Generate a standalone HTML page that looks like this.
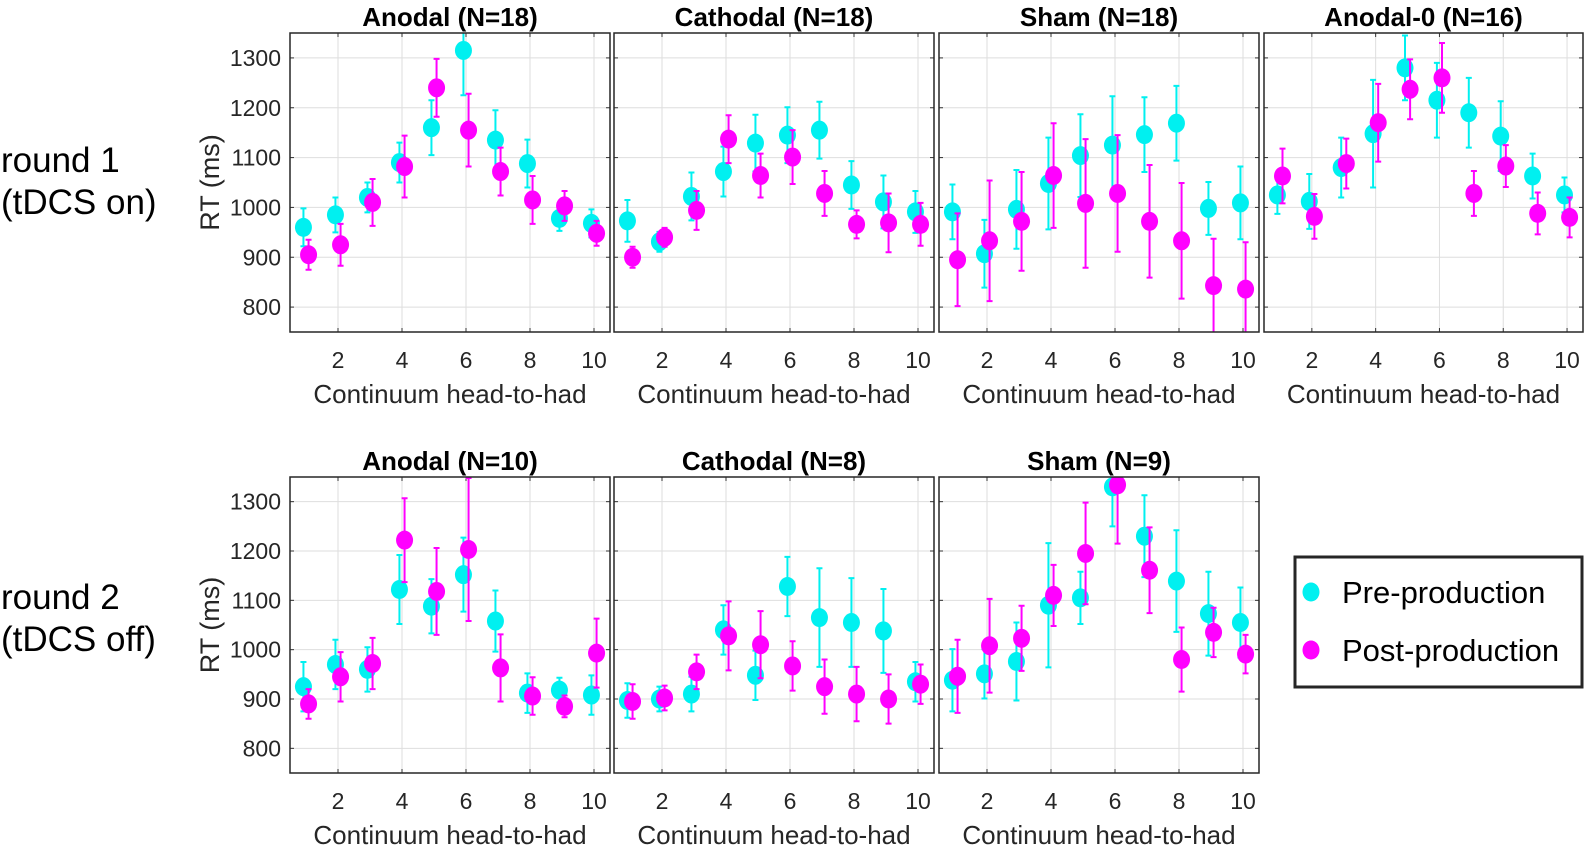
<!DOCTYPE html>
<html><head><meta charset="utf-8"><style>
body{margin:0;background:#fff;}
svg{display:block;font-family:"Liberation Sans",Arial,sans-serif;}
</style></head><body>
<svg id="fig" width="1592" height="853" viewBox="0 0 1592 853">
<g id="root"></g>
</svg>
<script>
const categories=[1,2,3,4,5,6,7,8,9,10];
const yTicks=[800,900,1000,1100,1200,1300];
const xTicks=[2,4,6,8,10];
const titles=["Anodal (N=18)","Cathodal (N=18)","Sham (N=18)","Anodal-0 (N=16)","Anodal (N=10)","Cathodal (N=8)","Sham (N=9)"];
const preMean=[
[960,985,1020,1090,1160,1315,1135,1088,978,968],
[973,931,1022,1072,1129,1145,1155,1045,1011,991],
[991,907,996,1048,1104,1125,1146,1169,998,1009],
[1025,1012,1080,1148,1280,1215,1190,1143,1063,1025],
[925,970,960,1122,1088,1152,1058,912,918,908],
[897,900,910,1040,948,1128,1065,1055,1038,935],
[938,951,976,1090,1105,1330,1230,1139,1073,1055]];
const preErr=[
[38,35,30,40,55,90,60,48,25,28],
[42,20,48,50,57,56,57,48,53,42],
[55,68,79,92,83,98,75,75,53,73],
[38,55,60,108,65,75,70,70,45,35],
[50,50,45,70,55,75,62,40,25,40],
[35,25,35,50,50,60,100,90,85,40],
[63,50,79,126,53,80,83,103,85,71]];
const postMean=[
[905,925,1010,1082,1240,1155,1072,1015,1003,948],
[900,940,994,1137,1064,1101,1028,966,969,966],
[895,933,972,1064,1008,1028,972,933,843,836],
[1063,982,1088,1170,1237,1260,1028,1083,988,980],
[890,945,972,1222,1118,1203,963,906,885,993],
[895,902,955,1028,1010,967,925,910,900,930],
[946,1008,1023,1110,1195,1334,1161,980,1035,991]];
const postErr=[
[30,42,47,62,58,73,48,48,30,25],
[21,19,39,48,44,54,45,28,59,43],
[93,121,99,105,129,117,113,116,94,94],
[55,45,50,78,60,70,45,42,42,40],
[30,50,52,85,88,145,68,38,22,70],
[35,25,35,70,68,50,55,55,50,40],
[74,95,66,62,103,119,87,65,50,39]];

const NS="http://www.w3.org/2000/svg";
const root=document.getElementById('root');
function mk(tag,attrs,parent){const e=document.createElementNS(NS,tag);for(const k in attrs)e.setAttribute(k,attrs[k]);(parent||root).appendChild(e);return e;}
const colX=[[290,610],[614,934],[939,1259],[1264,1583]];
const rowY=[[33,332],[477,773]];
const panels=[[0,0],[0,1],[0,2],[0,3],[1,0],[1,1],[1,2]];
const Y0=750,Y1=1350,X0=0.5,X1=10.5;

panels.forEach((rc,p)=>{
  const [r,c]=rc;const [L,R]=colX[c];const [T,B]=rowY[r];
  const sx=v=>L+(v-X0)/(X1-X0)*(R-L);
  const sy=v=>B-(v-Y0)/(Y1-Y0)*(B-T);
  const g=mk('g',{});
  
  
  const cp=mk('clipPath',{id:'cp'+p},g);mk('rect',{x:L,y:T,width:R-L,height:B-T},cp);
  yTicks.forEach(t=>{const l=mk('line',{x1:L,x2:R,y1:sy(t),y2:sy(t),stroke:'#dedede','stroke-width':1},g);
    
    mk('line',{x1:L,x2:L+4,y1:sy(t),y2:sy(t),stroke:'#333','stroke-width':1},g);
    mk('line',{x1:R-4,x2:R,y1:sy(t),y2:sy(t),stroke:'#333','stroke-width':1},g);
    if(c===0){const tx=mk('text',{x:L-9,y:sy(t)+8,'text-anchor':'end','font-size':23,fill:'#262626'},g);tx.textContent=t;
      }
  });
  xTicks.forEach(t=>{const l=mk('line',{x1:sx(t),x2:sx(t),y1:T,y2:B,stroke:'#dedede','stroke-width':1},g);
    
    mk('line',{x1:sx(t),x2:sx(t),y1:B-4,y2:B,stroke:'#333','stroke-width':1},g);
    mk('line',{x1:sx(t),x2:sx(t),y1:T,y2:T+4,stroke:'#333','stroke-width':1},g);
    const tx=mk('text',{x:sx(t),y:B+36,'text-anchor':'middle','font-size':23,fill:'#262626'},g);tx.textContent=t;
    
  });
  const xt=mk('text',{x:(L+R)/2,y:B+71,'text-anchor':'middle','font-size':26,fill:'#262626'},g);xt.textContent='Continuum head-to-had';
  
  const tt=mk('text',{x:(L+R)/2,y:T-7,'text-anchor':'middle','font-size':26,'font-weight':'bold',fill:'#000'},g);tt.textContent=titles[p];
  
  if(c===0){const yt=mk('text',{x:0,y:0,'text-anchor':'middle','font-size':27,fill:'#262626',transform:`translate(219,${(T+B)/2}) rotate(-90)`},g);yt.textContent='RT (ms)';
    }
  const dg=mk('g',{'clip-path':`url(#cp${p})`},g);
  [[preMean,preErr,'#00f0f0',-0.08,'pre'],[postMean,postErr,'#ff00ff',0.08,'post']].forEach(([M,E,col,off,nm])=>{
    categories.forEach((cat,i)=>{
      const x=sx(cat+off),m=M[p][i],e=E[p][i];
      const eb=mk('path',{d:`M${x},${sy(m-e)}V${sy(m+e)}M${x-3},${sy(m-e)}H${x+3}M${x-3},${sy(m+e)}H${x+3}`,stroke:col,'stroke-width':2,fill:'none'},dg);
      
      const ci=mk('ellipse',{cx:x,cy:sy(m),rx:8.5,ry:9.5,fill:col},dg);
      
    });
  });
  const fr=mk('rect',{x:L,y:T,width:R-L,height:B-T,fill:'none',stroke:'#262626','stroke-width':1.5},g);
  
});

function label(txt,x,y,name){const t=mk('text',{x:x,y:y,'font-size':35,fill:'#000'});t.textContent=txt;
  }
label('round 1',1,172,'row-label-round-1');
label('(tDCS on)',1,214,'row-label-tdcs-on');
label('round 2',1,609,'row-label-round-2');
label('(tDCS off)',1,651,'row-label-tdcs-off');

const lg=mk('g',{});

mk('rect',{x:1295,y:557,width:287,height:130,fill:'#fff',stroke:'#262626','stroke-width':3},lg);
const e1=mk('ellipse',{cx:1311,cy:592,rx:8.5,ry:9.5,fill:'#00f0f0'},lg);

const t1=mk('text',{x:1342,y:603,'font-size':31,fill:'#000'},lg);t1.textContent='Pre-production';

const e2=mk('ellipse',{cx:1311,cy:650,rx:8.5,ry:9.5,fill:'#ff00ff'},lg);

const t2=mk('text',{x:1342,y:661,'font-size':31,fill:'#000'},lg);t2.textContent='Post-production';

</script>
</body></html>
